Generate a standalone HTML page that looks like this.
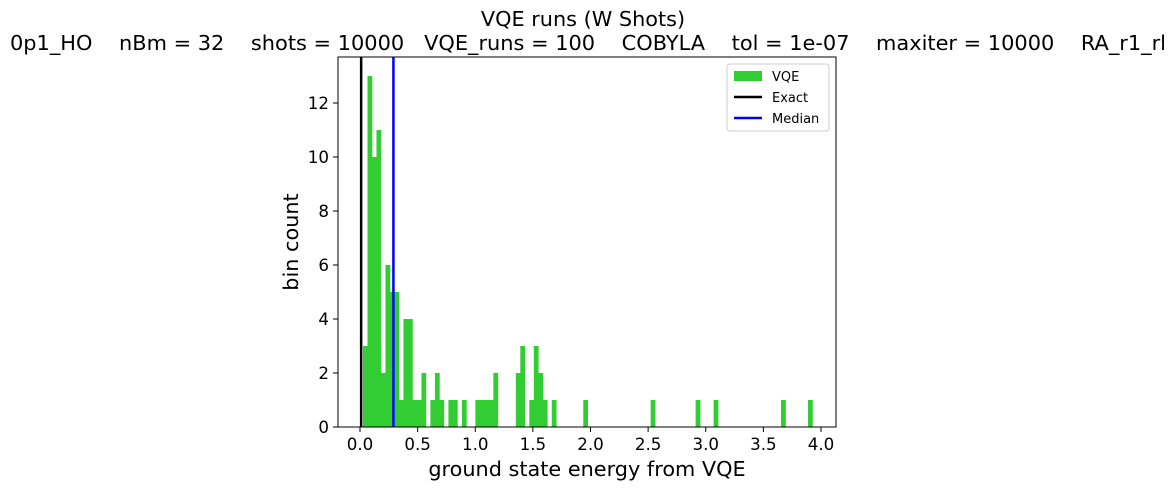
<!DOCTYPE html>
<html><head><meta charset="utf-8"><style>
html,body{margin:0;padding:0;background:#fff;}
svg{display:block;font-family:"DejaVu Sans","Liberation Sans",sans-serif;}
</style></head><body>
<svg id="chart" width="1173" height="490" viewBox="0 0 1173 490" xmlns="http://www.w3.org/2000/svg">
<rect x="0" y="0" width="1173" height="490" fill="#fff"/>
<text x="583" y="26" font-size="20.8" text-anchor="middle">VQE runs (W Shots)</text>
<text x="10" y="50" font-size="20.8" textLength="1156" lengthAdjust="spacingAndGlyphs" style="white-space:pre">0p1_HO    nBm = 32    shots = 10000   VQE_runs = 100    COBYLA    tol = 1e-07    maxiter = 10000    RA_r1_rl</text>
<g id="bars"></g>
<g id="lines"></g>
<rect x="338" y="57" width="498" height="370" fill="none" stroke="#000" stroke-width="1"/>
<g id="xticks"></g>
<g id="yticks"></g>
<text x="587" y="476" font-size="20.8" text-anchor="middle">ground state energy from VQE</text>
<text x="298" y="242" font-size="20.8" text-anchor="middle" transform="rotate(-90 298 242)">bin count</text>
<g>
<rect x="727" y="64" width="102" height="67" rx="3" fill="#fff" stroke="#ccc"/>
<rect x="734" y="71" width="28" height="10" fill="#32cd32"/>
<text x="772" y="81" font-size="13">VQE</text>
<line x1="734" y1="97" x2="762" y2="97" stroke="#000" stroke-width="2.5"/>
<text x="772" y="102" font-size="13">Exact</text>
<line x1="734" y1="118" x2="762" y2="118" stroke="#0000ff" stroke-width="2.5"/>
<text x="772" y="123" font-size="13">Median</text>
</g>
</svg>
<script>
const binStart = 0.026;
const binWidth = 0.039;
const counts = [3,13,10,11,2,6,5,5,1,4,4,1,1,2,0,1,2,1,0,1,1,0,1,0,0,1,1,1,1,2,0,0,0,0,2,3,0,1,3,2,1,0,1,0,0,0,0,0,0,1,0,0,0,0,0,0,0,0,0,0,0,0,0,0,1,0,0,0,0,0,0,0,0,0,1,0,0,0,1,0,0,0,0,0,0,0,0,0,0,0,0,0,0,1,0,0,0,0,0,1];
const exactValue = 0.01;
const medianValue = 0.29;
const xTicks = [0.0,0.5,1.0,1.5,2.0,2.5,3.0,3.5,4.0];
const xTickLabels = ["0.0","0.5","1.0","1.5","2.0","2.5","3.0","3.5","4.0"];
const yTicks = [0,2,4,6,8,10,12];
const yTickLabels = ["0","2","4","6","8","10","12"];

const NS = "http://www.w3.org/2000/svg";
function xs(v){ return 360 + v * 115.25; }
function ys(v){ return 427 - v * 27; }
function mk(tag, attrs, parent){
  const e = document.createElementNS(NS, tag);
  for (const k in attrs) e.setAttribute(k, attrs[k]);
  parent.appendChild(e);
  return e;
}
const bars = document.getElementById('bars');
counts.forEach((c, i) => {
  if (c <= 0) return;
  const x0 = xs(binStart + i * binWidth), x1 = xs(binStart + (i + 1) * binWidth);
  const r = mk('rect', {x: x0, y: ys(c), width: x1 - x0 + 0.3, height: ys(0) - ys(c), fill: '#32cd32'}, bars);
  
  
});
const lines = document.getElementById('lines');
const le = mk('line', {x1: xs(exactValue), x2: xs(exactValue), y1: 57, y2: 427, stroke: '#000', 'stroke-width': 2.5}, lines);


const lm = mk('line', {x1: xs(medianValue), x2: xs(medianValue), y1: 57, y2: 427, stroke: '#0000ff', 'stroke-width': 2.5}, lines);


const xg = document.getElementById('xticks');
xTicks.forEach((t, i) => {
  const x = xs(t);
  const l = mk('line', {x1: x, x2: x, y1: 427, y2: 432, stroke: '#000'}, xg);
  
  
  const tx = mk('text', {x: x, y: 450, 'font-size': 16.7, 'text-anchor': 'middle'}, xg);
  tx.textContent = xTickLabels[i];
  
  
});
const yg = document.getElementById('yticks');
yTicks.forEach((t, i) => {
  const y = ys(t);
  const l = mk('line', {x1: 333, x2: 338, y1: y, y2: y, stroke: '#000'}, yg);
  
  
  const tx = mk('text', {x: 329, y: y + 6, 'font-size': 16.7, 'text-anchor': 'end'}, yg);
  tx.textContent = yTickLabels[i];
  
  
});
</script>
</body></html>
